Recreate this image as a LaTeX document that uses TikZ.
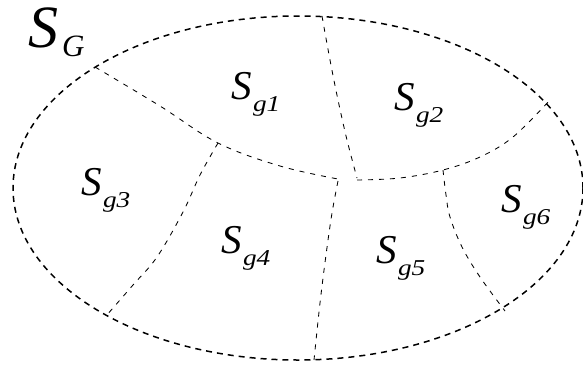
\documentclass[tikz,border=0pt]{standalone}
\usepackage{fontspec}
\setmainfont{Liberation Serif}
\newcommand{\lblS}[1]{{\fontsize{41}{41}\selectfont\itshape S}\hspace{1.5pt}\raisebox{-12pt}{\scalebox{1.3}[1.08]{\fontsize{21}{21}\selectfont\itshape #1}}}
\begin{document}
\begin{tikzpicture}[x=1pt,y=-1pt,
  outer/.style={line width=1.5pt,dash pattern=on 6pt off 5pt,black},
  inner/.style={line width=0.85pt,dash pattern=on 5pt off 6pt,black},
  lbl/.style={anchor=base west,inner sep=0pt,outer sep=0pt}]
\useasboundingbox (0,0) rectangle (583,367);
% outer region
\draw[outer] (298,188) ellipse [x radius=285, y radius=172];
% inner boundaries
\draw[inner] plot[smooth,tension=0.6] coordinates {(95,67) (160,106) (218,143) (280,166) (338,179)};
\draw[inner] plot[smooth,tension=0.6] coordinates {(357,180) (400,178) (443,170) (480,157) (513,137) (550,100)};
\draw[inner] plot[smooth,tension=0.6] coordinates {(322,16) (330,60) (338,100) (347,140) (357,178)};
\draw[inner] plot[smooth,tension=0.6] coordinates {(218,143) (200,175) (183,212) (157,257) (133,285) (106,316)};
\draw[inner] plot[smooth,tension=0.6] coordinates {(338,181) (332,213) (326,255) (320,303) (314,360)};
\draw[inner] plot[smooth,tension=0.6] coordinates {(443,170) (446,195) (450,217) (462,247) (480,277) (505,311)};
% labels
\node[lbl] (sG) at (28,47) {{\fontsize{60}{60}\selectfont\itshape S}\hspace{4pt}\raisebox{-9pt}{\fontsize{31}{31}\selectfont\itshape G}};
\node[lbl] (s1) at (231,99) {\lblS{g1}};
\node[lbl] (s2) at (394,110) {\lblS{g2}};
\node[lbl] (s3) at (81,195) {\lblS{g3}};
\node[lbl] (s4) at (221,253) {\lblS{g4}};
\node[lbl] (s5) at (376,263) {\lblS{g5}};
\node[lbl] (s6) at (501,212) {\lblS{g6}};
\end{tikzpicture}
\end{document}
